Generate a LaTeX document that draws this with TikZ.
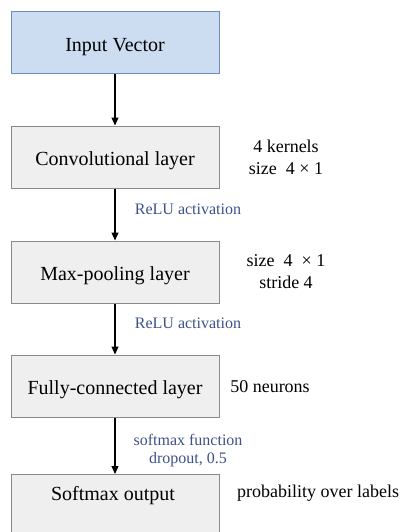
\documentclass[tikz,border=0pt]{standalone}
\usepackage{fontspec}
\setmainfont{Liberation Serif}
\usetikzlibrary{arrows.meta}
\definecolor{inblue}{HTML}{CCDDF2}
\definecolor{inborder}{HTML}{6C8EBF}
\definecolor{greyfill}{HTML}{EEEFEE}
\definecolor{greyborder}{HTML}{8A8A8A}
\definecolor{lblblue}{HTML}{3E5189}
\begin{document}
\begin{tikzpicture}[x=1pt,y=-1pt,
  box/.style={draw=greyborder, fill=greyfill, line width=1pt, minimum width=208pt, minimum height=62pt, inner sep=0pt, text height=17pt, text depth=0pt, font=\fontsize{20}{24}\selectfont},
  inbox/.style={box, draw=inborder, fill=inblue},
  side/.style={align=center, inner sep=0pt, font=\fontsize{18}{22}\selectfont},
  act/.style={align=center, inner sep=0pt, text=lblblue, font=\fontsize{16}{18}\selectfont},
  txt/.style={inner sep=0pt, text height=17pt, text depth=0pt, font=\fontsize{20}{24}\selectfont},
  arr/.style={-{Triangle[length=8pt,width=7pt]}, line width=1.2pt, black}]
\clip (0,0) rectangle (402,532);
\fill[white] (0,0) rectangle (402,532);
\node[inbox] (b1) at (115,43) {Input Vector};
\node[box] (b2) at (115,157) {Convolutional layer};
\node[box] (b3) at (115,272) {Max-pooling layer};
\node[box] (b4) at (115,386) {Fully-connected layer};
\node[box, anchor=north, minimum height=90pt] (b5) at (115,474) {};
\node[txt] (t5) at (113,492) {Softmax output};
\draw[arr] (b1) -- (b2);
\draw[arr] (b2) -- (b3);
\draw[arr] (b3) -- (b4);
\draw[arr] (b4) -- (b5);
\node[side] (s2) at (286,157) {4 kernels\\size\ \ 4 × 1};
\node[side] (s3) at (286,272) {size\ \ 4\ \ × 1\\stride 4};
\node[side] (s4) at (270,387) {50 neurons};
\node[side] (s5) at (318,493) {probability over labels};
\node[act] (a2) at (188,209) {ReLU activation};
\node[act] (a3) at (188,323) {ReLU activation};
\node[act] (a4) at (188,451) {softmax function\\dropout, 0.5};
\end{tikzpicture}
\end{document}
